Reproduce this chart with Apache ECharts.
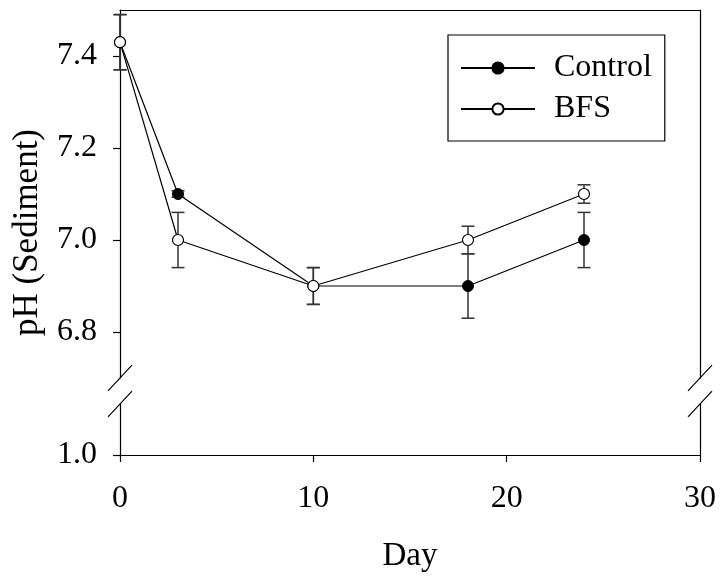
<!DOCTYPE html>
<html><head><meta charset="utf-8">
<script src="https://cdn.jsdelivr.net/npm/echarts@6/dist/echarts.min.js"></script>
<style>html,body{margin:0;padding:0;background:#fff}#c{width:723px;height:581px}</style>
</head><body><div id="c"></div>
<script>
// ---- data ----
const days = [0, 3, 10, 18, 24];
const controlPH = [7.43, 7.10, 6.90, 6.90, 7.00];
const controlErr = [0.06, 0.007, 0.04, 0.07, 0.06];
const bfsPH = [7.43, 7.00, 6.90, 7.00, 7.10];
const bfsErr = [0.06, 0.06, 0.04, 0.03, 0.02];
const upperTicks = [6.8, 7.0, 7.2, 7.4];
const lowerTicks = [1.0];
const seriesNames = ['Control', 'BFS'];

// ---- layout ----
const FONT = '"Liberation Serif", "Times New Roman", serif';
const L = 120, R = 700, UT = 10, UB = 378, LT = 404, LB = 455;
const UMIN = 6.7, UMAX = 7.5, LMIN = 1.0, LMAX = 1.1;

const chart = echarts.init(document.getElementById('c'), null, {renderer: 'canvas'});

function pairs(xs, ys) { return xs.map((x, i) => [x, ys[i]]); }
function errData(xs, ys, es) { return xs.map((x, i) => [x, ys[i], es[i]]); }

function errorSeries(name, data) {
  return {
    type: 'custom', name: name + ' err', xAxisIndex: 0, yAxisIndex: 0, z: 1,
    silent: true, legendHoverLink: false,
    data: data,
    renderItem: function (params, api) {
      const x = api.value(0), y = api.value(1), e = api.value(2);
      const top = api.coord([x, y + e]);
      const bot = api.coord([x, y - e]);
      const w = 6.5;
      const st = {stroke: '#333', lineWidth: 1.5};
      return {type: 'group', children: [
        {type: 'line', shape: {x1: top[0], y1: top[1], x2: bot[0], y2: bot[1]}, style: st},
        {type: 'line', shape: {x1: top[0] - w, y1: top[1], x2: top[0] + w, y2: top[1]}, style: st},
        {type: 'line', shape: {x1: bot[0] - w, y1: bot[1], x2: bot[0] + w, y2: bot[1]}, style: st}
      ]};
    }
  };
}

const axisLineStyle = {color: '#000', width: 1.2};

const option = {
  backgroundColor: '#fff',
  animation: false,
  textStyle: {fontFamily: FONT, color: '#000'},
  grid: [
    {left: L, top: UT, width: R - L, height: UB - UT},
    {left: L, top: LT, width: R - L, height: LB - LT}
  ],
  xAxis: [
    {gridIndex: 0, type: 'value', min: 0, max: 30, interval: 10, position: 'top',
     axisLine: {show: true, lineStyle: axisLineStyle}, axisTick: {show: false},
     axisLabel: {show: false}, splitLine: {show: false}},
    {gridIndex: 1, type: 'value', min: 0, max: 30, interval: 10, position: 'bottom',
     name: 'Day', nameLocation: 'middle', nameGap: 85,
     nameTextStyle: {fontFamily: FONT, fontSize: 33, color: '#000'},
     axisLine: {show: true, lineStyle: axisLineStyle},
     axisTick: {show: true, inside: false, length: 7, lineStyle: axisLineStyle},
     axisLabel: {show: true, margin: 28, fontFamily: FONT, fontSize: 32, color: '#000'},
     splitLine: {show: false}}
  ],
  yAxis: [
    {gridIndex: 0, type: 'value', min: UMIN, max: UMAX, position: 'left',
     axisLine: {show: true, onZero: false, lineStyle: axisLineStyle},
     axisTick: {show: true, inside: false, length: 7, customValues: upperTicks, lineStyle: axisLineStyle},
     axisLabel: {show: true, margin: 23, customValues: upperTicks, fontFamily: FONT, fontSize: 32, color: '#000',
       formatter: v => Number(v).toFixed(1)},
     splitLine: {show: false}},
    {gridIndex: 0, type: 'value', min: UMIN, max: UMAX, position: 'right',
     axisLine: {show: true, onZero: false, lineStyle: axisLineStyle},
     axisTick: {show: false}, axisLabel: {show: false}, splitLine: {show: false}},
    {gridIndex: 1, type: 'value', min: LMIN, max: LMAX, position: 'left',
     axisLine: {show: true, onZero: false, lineStyle: axisLineStyle},
     axisTick: {show: true, inside: false, length: 7, customValues: lowerTicks, lineStyle: axisLineStyle},
     axisLabel: {show: true, margin: 23, customValues: lowerTicks, fontFamily: FONT, fontSize: 32, color: '#000',
       formatter: v => Number(v).toFixed(1)},
     splitLine: {show: false}},
    {gridIndex: 1, type: 'value', min: LMIN, max: LMAX, position: 'right',
     axisLine: {show: true, onZero: false, lineStyle: axisLineStyle},
     axisTick: {show: false}, axisLabel: {show: false}, splitLine: {show: false}}
  ],
  legend: {
    data: seriesNames,
    orient: 'vertical', left: 448, top: 35,
    padding: [17, 13, 16, 12], itemGap: 9,
    itemWidth: 74, itemHeight: 14,
    borderColor: '#000', borderWidth: 1.2, backgroundColor: '#fff',
    textStyle: {fontFamily: FONT, fontSize: 32, color: '#000', padding: [0, 0, 0, 14]},
    selectedMode: false
  },
  series: [
    errorSeries(seriesNames[0], errData(days, controlPH, controlErr)),
    errorSeries(seriesNames[1], errData(days, bfsPH, bfsErr)),
    {type: 'line', name: seriesNames[0], xAxisIndex: 0, yAxisIndex: 0, z: 3,
     data: pairs(days, controlPH), symbol: 'circle', symbolSize: 11, clip: false,
     lineStyle: {color: '#000', width: 1.2},
     itemStyle: {color: '#000', borderColor: '#000', borderWidth: 1}},
    {type: 'line', name: seriesNames[1], xAxisIndex: 0, yAxisIndex: 0, z: 4,
     data: pairs(days, bfsPH), symbol: 'circle', symbolSize: 11, clip: false,
     lineStyle: {color: '#000', width: 1.2},
     itemStyle: {color: '#fff', borderColor: '#000', borderWidth: 1.2}}
  ],
  graphic: []
};

// y-axis title centred on the full (broken) axis
option.graphic.push({
  type: 'text', x: 28, y: (UT + LB) / 2, rotation: Math.PI / 2,
  style: {text: 'pH (Sediment)', font: '35px ' + FONT, fill: '#000', align: 'center', verticalAlign: 'middle'}
});

// axis-break marks at both vertical axes
[L, R].forEach(function (ax) {
  [UB, LT].forEach(function (by) {
    option.graphic.push({
      type: 'line', z: 10,
      shape: {x1: ax - 12, y1: by + 12.8, x2: ax + 12, y2: by - 12.8},
      style: {stroke: '#000', lineWidth: 1.2}
    });
  });
});

chart.setOption(option);
</script>
</body></html>
